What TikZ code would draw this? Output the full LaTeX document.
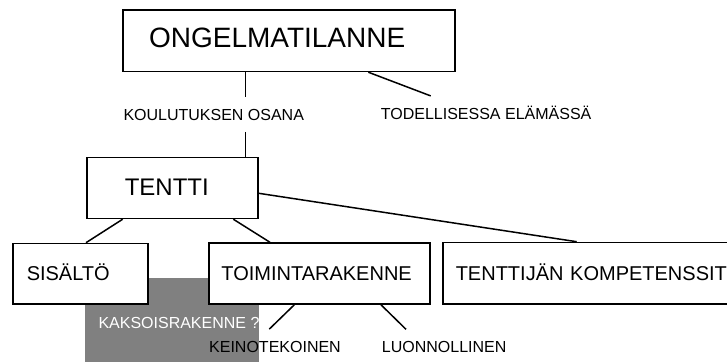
\documentclass[tikz,border=0pt]{standalone}
\usepackage{fontspec}
\setmainfont{Liberation Sans}
\usetikzlibrary{calc}
\definecolor{greyfill}{RGB}{128,128,128}
\tikzset{
  box/.style={draw, line width=1.5pt, fill=white, anchor=north west, align=left, inner ysep=0pt},
  lbl/.style={anchor=base west, inner xsep=0pt, inner ysep=11.7pt, text height=11.5pt, text depth=0pt,
    font=\fontsize{16}{18}\selectfont},
  link/.style={line width=1.5pt}
}
\begin{document}
\begin{tikzpicture}[x=1pt,y=-1pt]
  \useasboundingbox (0,0) rectangle (727,362);
  \clip (0,0) rectangle (727,362);

  \fill[greyfill] (85,278) rectangle (259,362);

  \node[box, inner xsep=26pt, text width=280pt, minimum height=61.4pt, text height=20pt, text depth=6.6pt,
    font=\fontsize{28}{30}\selectfont] (ongel) at (122.3,9.3) {ONGELMATILANNE};
  \node[box, inner xsep=38pt, text width=95.3pt, minimum height=61pt, text height=17.2pt, text depth=3pt,
    font=\fontsize{24}{26}\selectfont] (tentti) at (86,156.7) {TENTTI};
  \node[box, inner xsep=13.7pt, text width=107.6pt, minimum height=60.6pt, text height=14.3pt, text depth=0.3pt,
    font=\fontsize{20}{22}\selectfont] (sisalto) at (12.3,242.7) {SISÄLTÖ};
  \node[box, inner xsep=12.35pt, text width=196pt, minimum height=61pt, text height=14.3pt, text depth=0.3pt,
    font=\fontsize{20}{22}\selectfont] (toim) at (208.3,242.3) {TOIMINTARAKENNE};
  \node[box, inner xsep=13pt, text width=290pt, minimum height=61.6pt, text height=14.3pt, text depth=0.3pt,
    font=\fontsize{20}{22}\selectfont] (komp) at (442,241.7) {TENTTIJÄN KOMPETENSSIT};

  \node[lbl] (koulu) at (123.3,120) {KOULUTUKSEN OSANA};
  \node[lbl] (todell) at (380.7,119.3) {TODELLISESSA ELÄMÄSSÄ};
  \node[lbl, text=white] (kaksois) at (98.3,328.3) {KAKSOISRAKENNE ?};
  \node[lbl] (keino) at (209,352.5) {KEINOTEKOINEN};
  \node[lbl] (luonn) at (381.7,352.7) {LUONNOLLINEN};

  \coordinate (spine) at (245.7,0);
  \draw[link] (ongel.south -| spine) -- (koulu.north -| spine);
  \draw[link] (koulu.south -| spine) -- (tentti.north -| spine);
  \draw[link] ($(ongel.south west)+(246,0)$) -- ($(todell.north west)+(50,0)$);

  \draw[link] ($(tentti.south west)+(36.7,0)$) -- ($(sisalto.north west)+(73.7,0)$);
  \draw[link] ($(tentti.south west)+(147.3,0)$) -- ($(toim.north west)+(61.7,0)$);
  \draw[link] ($(tentti.north east)+(0,36.6)$) -- ($(komp.north west)+(134.7,0)$);

  \draw[link] ($(toim.south west)+(86,0)$) -- ($(keino.north west)+(60.3,0)$);
  \draw[link] ($(toim.south west)+(172.7,0)$) -- ($(luonn.north west)+(24.3,0)$);
\end{tikzpicture}
\end{document}
